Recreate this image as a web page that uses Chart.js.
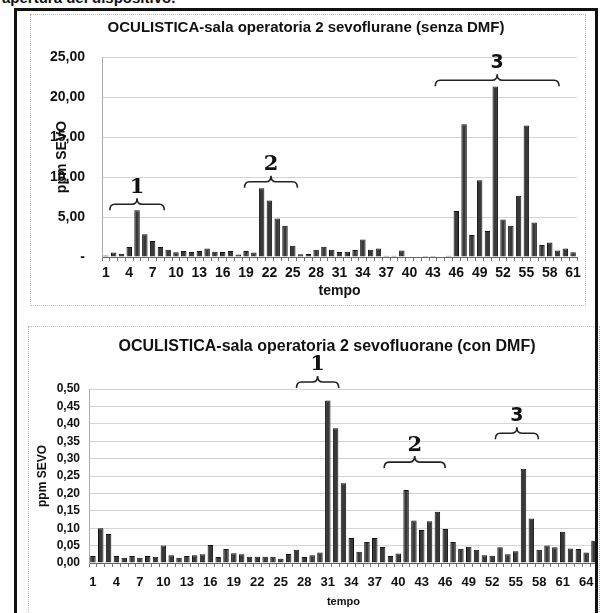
<!DOCTYPE html>
<html>
<head>
<meta charset="utf-8">
<script src="https://cdn.jsdelivr.net/npm/chart.js@4.4.0/dist/chart.umd.min.js"></script>
<style>
  body { margin:0; width:602px; height:613px; overflow:hidden; background:#fff; position:relative; font-family:"Liberation Sans", Arial, sans-serif; }
  .head { position:absolute; left:2px; top:-11px; font-size:15px; font-weight:bold; color:#111; }
  .frame { position:absolute; left:14px; top:8px; width:578px; height:640px; border:3px solid #111; }
  .box { position:absolute; border:1px dotted #bbb; }
  canvas { position:absolute; }
</style>
</head>
<body>
<div class="head">apertura del dispositivo.</div>
<div class="box" style="left:30px;top:14px;width:554px;height:290px"></div>
<div class="box" style="left:28px;top:326px;width:570px;height:300px"></div>
<canvas id="senza" style="left:30px;top:14px" width="555" height="291"></canvas>
<canvas id="con" style="left:28px;top:326px" width="574" height="287"></canvas>
<div class="frame"></div>
<script>
// tempo (campioni)
const tempoSenza = Array.from({length: 61}, (_, i) => String(i + 1))
const tempoCon = Array.from({length: 65}, (_, i) => String(i + 1))

// ppm SEVO senza DMF
const sevoSenza = [
  0.2, 0.55, 0.4, 1.25, 5.85, 2.85, 2.0, 1.25, 0.9, 0.6,
  0.75, 0.62, 0.75, 1.05, 0.65, 0.62, 0.75, 0.3, 0.75, 0.55,
  8.6, 7.05, 4.8, 3.9, 1.4, 0.33, 0.37, 0.9, 1.28, 0.9,
  0.62, 0.66, 0.87, 2.2, 0.9, 1.07, 0.17, 0.17, 0.8, 0,
  0.05, 0.12, 0.12, 0, 0.15, 5.75, 16.6, 2.75, 9.6, 3.25,
  21.3, 4.7, 3.9, 7.65, 16.45, 4.3, 1.5, 1.8, 0.8, 1.05,
  0.6
]

// ppm SEVO con DMF
const sevoCon = [
  0.02, 0.10, 0.083, 0.02, 0.015, 0.02, 0.015, 0.02, 0.018, 0.05,
  0.022, 0.015, 0.02, 0.022, 0.025, 0.052, 0.017, 0.04, 0.028, 0.025,
  0.018, 0.018, 0.018, 0.018, 0.012, 0.026, 0.038, 0.017, 0.022, 0.03,
  0.467, 0.387, 0.229, 0.072, 0.032, 0.06, 0.072, 0.046, 0.02, 0.027,
  0.21, 0.122, 0.095, 0.12, 0.147, 0.098, 0.06, 0.041, 0.047, 0.038,
  0.022, 0.021, 0.045, 0.025, 0.034, 0.271, 0.128, 0.038, 0.05, 0.045,
  0.09, 0.042, 0.04, 0.03, 0.064
]

// graffe: intervallo di campioni e quota (in ppm)
const graffeSenza = [
  { label: '1', from: 1.5, to: 8.5, at: 6.6 },
  { label: '2', from: 18.8, to: 25.6, at: 9.4 },
  { label: '3', from: 43.3, to: 59.2, at: 22.1 }
]
const graffeCon = [
  { label: '1', from: 27, to: 32.4, at: 0.52 },
  { label: '2', from: 38.2, to: 46, at: 0.29 },
  { label: '3', from: 52.4, to: 57.9, at: 0.373 }
]

const FONT = '"Liberation Sans", Arial, sans-serif'

const graffe = {
  id: 'graffe',
  afterDatasetsDraw(chart, args, opts) {
    const { ctx } = chart
    const x = chart.scales.x, y = chart.scales.y
    ctx.save()
    ctx.fillStyle = '#111'
    ctx.textAlign = 'center'
    ctx.textBaseline = 'middle'
    ctx.font = 'bold ' + opts.titleSize + 'px ' + FONT
    ctx.fillText(opts.title, opts.titleX, opts.titleY)

    opts.items.forEach(b => {
      const x1 = x.getPixelForValue(b.from - 1)
      const x2 = x.getPixelForValue(b.to - 1)
      const yy = y.getPixelForValue(b.at)
      const xm = (x1 + x2) / 2, h = 6, r = 5
      ctx.beginPath()
      ctx.moveTo(x1, yy + h)
      ctx.quadraticCurveTo(x1, yy, x1 + r, yy)
      ctx.lineTo(xm - r, yy)
      ctx.quadraticCurveTo(xm, yy, xm, yy - h)
      ctx.quadraticCurveTo(xm, yy, xm + r, yy)
      ctx.lineTo(x2 - r, yy)
      ctx.quadraticCurveTo(x2, yy, x2, yy + h)
      ctx.lineWidth = 1.6
      ctx.strokeStyle = '#222'
      ctx.stroke()
      ctx.font = b.label === '3' ? 'bold 19px "DejaVu Sans"' : 'bold 21px "DejaVu Serif"'
      ctx.fillText(b.label, xm, yy - h - 11)
    })
    ctx.restore()
  }
}

function makeChart(id, labels, data, cfg) {
  const ctx = document.getElementById(id).getContext('2d')
  return new Chart(ctx, {
    type: 'bar',
    data: {
      labels: labels,
      datasets: [{
        label: 'ppm SEVO',
        data: data,
        backgroundColor: '#383838',
        borderColor: '#111',
        borderWidth: 1,
        barPercentage: 0.7,
        categoryPercentage: 1
      }]
    },
    plugins: [graffe],
    options: {
      responsive: false,
      animation: false,
      layout: { padding: cfg.padding },
      scales: {
        x: {
          grid: { display: true, drawOnChartArea: false, drawTicks: true, tickLength: 4, color: '#777', offset: true },
          border: { display: true, color: '#666', width: 1 },
          ticks: {
            autoSkip: false, maxRotation: 0, padding: cfg.xPad, color: '#111',
            font: { family: FONT, size: cfg.xSize, weight: 'bold' },
            callback: function (v, i) { return i % 3 === 0 ? this.getLabelForValue(v) : '' }
          },
          title: { display: true, text: 'tempo', color: '#111', padding: { top: 0, bottom: cfg.tempoPad },
                   font: { family: FONT, size: cfg.tempoSize, weight: 'bold' } },
          afterFit: s => { s.height = cfg.xHeight }
        },
        y: {
          min: 0, max: cfg.max,
          grid: { color: 'rgba(160,160,160,0.45)', borderDash: [3, 2], drawTicks: false },
          border: { display: true, color: '#aaa', width: 1 },
          ticks: {
            stepSize: cfg.step, autoSkip: false, padding: cfg.yPad, color: '#111',
            font: { family: FONT, size: cfg.ySize, weight: 'bold' },
            callback: cfg.fmt
          },
          title: { display: true, text: 'ppm SEVO', color: '#111', padding: { top: cfg.yTitlePad, bottom: 0 },
                   font: { family: FONT, size: cfg.yTitleSize, weight: 'bold' } },
          afterFit: s => { s.width = cfg.yWidth }
        }
      },
      plugins: {
        legend: { display: false },
        tooltip: { enabled: false },
        title: { display: false },
        graffe: cfg.graffe
      }
    }
  })
}

const virgola = v => v.toFixed(2).replace('.', ',')

makeChart('senza', tempoSenza, sevoSenza, {
  padding: { top: 43, right: 8, left: 0, bottom: 0 },
  max: 25, step: 5,
  fmt: v => v === 0 ? '-' : virgola(v),
  xSize: 14, xPad: 4, xHeight: 48, tempoSize: 14, tempoPad: 5,
  ySize: 14, yPad: 17, yWidth: 72, yTitleSize: 14, yTitlePad: 24,
  graffe: { title: 'OCULISTICA-sala operatoria 2 sevoflurane (senza DMF)', titleSize: 15, titleX: 276, titleY: 14, items: graffeSenza }
})

makeChart('con', tempoCon, sevoCon, {
  padding: { top: 63, right: 2, left: 0, bottom: 0 },
  max: 0.5, step: 0.05,
  fmt: v => virgola(v),
  xSize: 13, xPad: 8, xHeight: 50, tempoSize: 11, tempoPad: 4,
  ySize: 12, yPad: 9, yWidth: 61, yTitleSize: 12, yTitlePad: 7,
  graffe: { title: 'OCULISTICA-sala operatoria 2 sevofluorane (con DMF)', titleSize: 16, titleX: 299, titleY: 21, items: graffeCon }
})
</script>
</body>
</html>
